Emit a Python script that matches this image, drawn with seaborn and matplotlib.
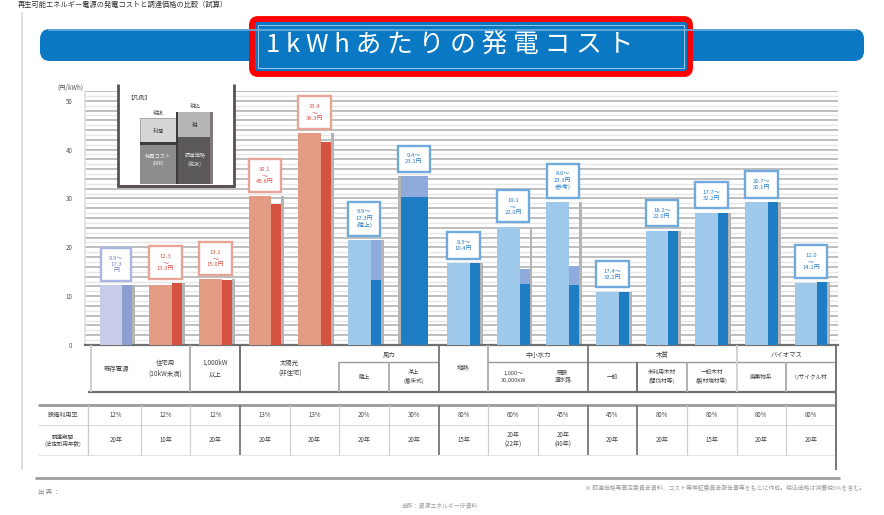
import numpy as np
import pandas as pd
import matplotlib
matplotlib.use("Agg")
import matplotlib.pyplot as plt
from matplotlib.patches import Rectangle, FancyBboxPatch
import seaborn as sns

# ---------------- data ----------------
groups = ["lav", "red", "red", "red", "red", "blue", "blue", "blue",
          "blue", "blue", "blue", "blue", "blue", "blue", "blue"]
light_vals = [12.3, 12.3, 13.5, 30.5, 43.4, 21.5, np.nan, 16.8,
              24.2, 29.3, 10.9, 23.4, 27.1, 29.3, 12.7]
dark_vals = [12.3, 12.7, 13.3, 28.9, 41.6, 13.3, 30.3, 16.8,
             12.5, 12.3, 10.9, 23.4, 27.1, 29.3, 12.9]
dark_total = [np.nan, np.nan, np.nan, np.nan, np.nan, 21.5, 34.6, np.nan,
              15.6, 16.2, np.nan, np.nan, np.nan, np.nan, np.nan]
box_texts = ["9.9～\n17.3\n円", "12.3\n～\n13.3円", "13.1\n～\n15.0円",
             "30.1\n～\n45.8円", "33.4\n～\n38.3円", "9.9～\n17.3円\n(陸上)",
             "9.4～\n23.1円", "8.3～\n10.4円", "19.1\n～\n22.0円",
             "8.0～\n23.3円\n(参考)", "17.4～\n32.2円", "18.2～\n22.0円",
             "17.7～\n32.2円", "20.7～\n30.1円", "12.0\n～\n14.1円"]
full_labels = [("既存電源", 0, 0), ("住宅用\n(10kW未満)", 1, 1),
               ("1,000kW\n以上", 2, 2), ("太陽光\n(非住宅)", 3, 4), ("地熱", 7, 7)]
top_groups = [("風力", 5, 6), ("中小水力", 8, 9), ("木質", 10, 12), ("バイオマス", 13, 14)]
sub_labels = {5: "陸上", 6: "洋上\n(着床式)", 8: "1,000～\n30,000kW", 9: "既設\n導水路",
              10: "一般", 11: "未利用木材\n(間伐材等)", 12: "一般木材\n(製材端材等)",
              13: "廃棄物系", 14: "リサイクル材"}
row_labels = ["設備利用率", "調達期間\n(法定耐用年数)"]
util_vals = ["12%", "12%", "12%", "13%", "13%", "20%", "30%", "80%",
             "60%", "45%", "45%", "80%", "80%", "80%", "80%"]
period_vals = ["20年", "10年", "20年", "20年", "20年", "20年", "20年", "15年",
               "20年\n(22年)", "20年\n(40年)", "20年", "20年", "15年", "20年", "20年"]
y_ticks = [0, 10, 20, 30, 40, 50]
unit_label = "(円/kWh)"
title = "1 k W h あ た り の 発 電 コ ス ト"

# ---------------- style ----------------
sns.set_theme(style="white")
plt.rcParams["font.family"] = ["Noto Sans CJK JP", "DejaVu Sans"]

light_pal = {"lav": "#c7cce9", "red": "#e39b83", "blue": "#9fc9eb"}
dark_pal = {"lav": "#8d9ed3", "red": "#d4523f", "blue": "#1f7dc3"}
cap_pal = {"lav": "#a9b6e0", "red": "#e07a66", "blue": "#8eabdb"}
box_ec = {"lav": "#aab6e2", "red": "#e8a497", "blue": "#70a9dc"}
box_tc = {"lav": "#6f86cc", "red": "#d9534a", "blue": "#2a7fc8"}

W, H = 884, 515
fig = plt.figure(figsize=(W / 100, H / 100), dpi=100)
fig.patch.set_facecolor("white")

X0, DX = 116.0, 49.64
L_PX, R_PX = 85, 838
TOP_PX, BOT_PX = 91, 345
YMAX = 52

ax = fig.add_axes([L_PX / W, 1 - BOT_PX / H, (R_PX - L_PX) / W, (BOT_PX - TOP_PX) / H])
ax.set_facecolor("white")

df = pd.DataFrame({"pos": np.arange(len(groups)), "group": groups,
                   "light": light_vals, "dark": dark_vals, "total": dark_total})
df["top"] = df[["light", "dark", "total"]].max(axis=1)
has_light = df["light"].notna()


def bars(data, ycol, offset, width, z, palette=None, color=None):
    d = data.dropna(subset=[ycol])
    if d.empty:
        return
    kw = dict(native_scale=True, width=width, errorbar=None, saturation=1,
              linewidth=0, ax=ax, zorder=z)
    if palette is not None:
        sns.barplot(x=d["pos"] + offset, y=d[ycol], hue=d["group"], palette=palette,
                    dodge=False, legend=False, **kw)
    else:
        sns.barplot(x=d["pos"] + offset, y=d[ycol], color=color, **kw)


narrow = df[has_light]
wide = df[~has_light]
# shadows
bars(narrow, "top", 0.36, 0.06, 2, color="#b4b4b4")
bars(wide, "top", -0.29, 0.06, 2, color="#b4b4b4")
# light bars
bars(narrow, "light", -0.10, 0.46, 3, palette=light_pal)
# stacked dark bars
bars(narrow, "total", 0.23, 0.20, 3, palette=cap_pal)
bars(narrow, "dark", 0.23, 0.20, 4, palette=dark_pal)
bars(wide, "total", 0.01, 0.54, 3, palette=cap_pal)
bars(wide, "dark", 0.01, 0.54, 4, palette=dark_pal)

# grid
for v in np.arange(1, YMAX + 1, 1):
    if v % 2 == 0:
        ax.axhline(v, color="#bebebe", lw=1.4, zorder=0)
    else:
        ax.axhline(v, color="#e6e6e6", lw=1.0, zorder=0)

ax.set_xlim((L_PX - X0) / DX, (R_PX - X0) / DX)
ax.set_ylim(0, YMAX)
ax.set_xticks([])
ax.set_xlabel("")
ax.set_ylabel("")
ax.set_yticks(y_ticks)
ax.set_yticklabels([str(t) for t in y_ticks], fontsize=4.5, color="#555555")
ax.tick_params(axis="y", length=0, pad=9)
for s in ["top", "right"]:
    ax.spines[s].set_visible(False)
ax.spines["left"].set_color("#dedede")
ax.spines["left"].set_linewidth(1.2)
ax.spines["bottom"].set_color("#707070")
ax.spines["bottom"].set_linewidth(1.6)

# annotation boxes
for i, row in df.iterrows():
    g = row["group"]
    ax.annotate(box_texts[i], xy=(row["pos"], row["top"]), xytext=(0, 8.5),
                textcoords="offset points", ha="center", va="bottom",
                fontsize=4.3, color=box_tc[g], linespacing=1.3,
                bbox=dict(boxstyle="square,pad=1.25", fc="white", ec=box_ec[g], lw=1.7),
                zorder=6, annotation_clip=False)

# ---------------- overlay (pixel coords) ----------------
ov = fig.add_axes([0, 0, 1, 1])
ov.set_xlim(0, W)
ov.set_ylim(H, 0)
ov.axis("off")
ov.set_zorder(3)
ov.patch.set_alpha(0)


def cx(i):
    return X0 + DX * i


def line(x0, y0, x1, y1, c="#777777", lw=1.2):
    ov.plot([x0, x1], [y0, y1], color=c, lw=lw, solid_capstyle="butt")


# top caption and left rule
ov.text(18, 5, "再生可能エネルギー電源の発電コストと調達価格の比較（試算）", fontsize=5.2,
        color="#333333", va="center", ha="left")
line(22, 12, 22, 470, "#d8d8d8", 1.2)

# title banner
ov.add_patch(FancyBboxPatch((40, 29), 824, 32, boxstyle="round,pad=0,rounding_size=10",
                            fc="#0a78c2", ec="none"))
line(48, 30, 856, 30, "#6aaee0", 1.2)
ov.add_patch(FancyBboxPatch((252, 19), 438, 55, boxstyle="round,pad=0,rounding_size=6",
                            fc="#0a78c2", ec="#ff0000", lw=4.2))
ov.add_patch(Rectangle((258, 25), 426, 43, fc="none", ec="#9cc8ea", lw=0.7))
ov.text(266, 46, title, color="white", fontsize=18.5, va="center", ha="left")

# unit label
ov.text(70, 88, unit_label, fontsize=4.5, color="#555555", ha="center", va="center")

# legend inset
ov.add_patch(Rectangle((118, 84), 116, 102, fc="white", ec="none"))
line(118, 84, 118, 187, "#5b5252", 2.0)
line(234, 84, 234, 187, "#5b5252", 2.0)
line(117, 186, 235, 186, "#5b5252", 2.2)
ov.text(127, 98, "【凡例】", fontsize=4.2, color="#444444", ha="left", va="center")
ov.add_patch(Rectangle((140, 118), 36, 24, fc="#d6d6d6", ec="#9a9a9a", lw=0.6))
ov.add_patch(Rectangle((140, 142), 36, 2.5, fc="#3a3a3a", ec="none"))
ov.add_patch(Rectangle((140, 144.5), 36, 39.5, fc="#8c8c8c", ec="none"))
ov.add_patch(Rectangle((176, 112), 37, 25, fc="#b5b5b5", ec="none"))
ov.add_patch(Rectangle((176, 137), 37, 47, fc="#5a5858", ec="none"))
ov.add_patch(Rectangle((176, 112), 2, 72, fc="#3f3a3a", ec="none"))
ov.add_patch(Rectangle((210, 112), 3, 72, fc="#807878", ec="none"))
ov.text(158, 113, "税抜", fontsize=4, color="#555555", ha="center", va="center")
ov.text(158, 131, "利潤", fontsize=4, color="#444444", ha="center", va="center")
ov.text(158, 160, "発電コスト\n(IRR)", fontsize=3.8, color="#eeeeee", ha="center",
        va="center", linespacing=1.5)
ov.text(195, 106, "税込", fontsize=4, color="#555555", ha="center", va="center")
ov.text(195, 125, "税", fontsize=4, color="#333333", ha="center", va="center")
ov.text(195, 160, "調達価格\n(税抜)", fontsize=3.8, color="#dddddd", ha="center",
        va="center", linespacing=1.5)

# header table
HT, HM, HB = 345, 362, 392
tcol = "#444444"
fs = 4.6
line(88, HB, 836, HB, "#6f6f6f", 1.6)
for a, b in [(5, 6), (8, 14)]:
    line(cx(a) - DX / 2, HM, cx(b) + DX / 2, HM, "#9a9a9a", 1.0)
full_v = {-0.5: "#cccccc", 1.5: "#aaaaaa", 2.5: "#666666", 6.5: "#777777", 7.5: "#aaaaaa",
          9.5: "#777777", 12.5: "#cfcfcf", 14.5: "#777777"}
lower_v = {4.5: "#aaaaaa", 5.5: "#aaaaaa", 10.5: "#666666", 11.5: "#aaaaaa", 13.5: "#aaaaaa"}
for k, c in full_v.items():
    line(cx(k), HT, cx(k), HB, c, 1.3)
for k, c in lower_v.items():
    line(cx(k), HM, cx(k), HB, c, 1.3)
for lab, a, b in full_labels:
    ov.text((cx(a) + cx(b)) / 2, (HT + HB) / 2, lab, fontsize=fs, color=tcol,
            ha="center", va="center", linespacing=1.5)
for lab, a, b in top_groups:
    ov.text((cx(a) + cx(b)) / 2, (HT + HM) / 2 + 1, lab, fontsize=fs, color=tcol,
            ha="center", va="center")
for i, lab in sub_labels.items():
    ov.text(cx(i), (HM + HB) / 2, lab, fontsize=4.1, color=tcol, ha="center",
            va="center", linespacing=1.4)

# data table
T0, T1, T2 = 405, 425, 455
line(38, T0, 836, T0, "#9a9a9a", 2.0)
line(38, T1, 836, T1, "#dddddd", 0.8)
line(38, T2, 836, T2, "#e4e4e4", 0.8)
line(88, T0, 88, T2, "#cccccc", 1.0)
heavy = {2.5, 6.5, 9.5, 10.5, 14.5}
for k in np.arange(0.5, 15, 1.0):
    c = "#777777" if k in heavy else "#d0d0d0"
    line(cx(k), T0, cx(k), T2, c, 1.3 if k in heavy else 0.9)
ov.text(63, (T0 + T1) / 2, row_labels[0], fontsize=4.4, color=tcol, ha="center", va="center")
ov.text(63, (T1 + T2) / 2, row_labels[1], fontsize=4.0, color=tcol, ha="center",
        va="center", linespacing=1.4)
for i in range(len(util_vals)):
    ov.text(cx(i), (T0 + T1) / 2, util_vals[i], fontsize=4.4, color=tcol, ha="center", va="center")
    ov.text(cx(i), (T1 + T2) / 2, period_vals[i], fontsize=4.4, color=tcol, ha="center",
            va="center", linespacing=1.3)

# right rule and footer
line(cx(14.5), HT, cx(14.5), 470, "#777777", 1.4)
line(35, 478, 840, 478, "#a0a0a0", 2.0)
ov.text(38, 492, "出 典 ：", fontsize=4.6, color="#888888", ha="left", va="center")
ov.text(865, 488, "※ 調達価格等算定委員会資料、コスト等検証委員会報告書等をもとに作成。税込価格は消費税5%を含む。",
        fontsize=4.2, color="#9a9a9a", ha="right", va="center")
ov.text(440, 505, "出所：資源エネルギー庁資料", fontsize=4.2, color="#9a9a9a", ha="center", va="center")

fig.savefig("out.png", dpi=100, facecolor="white")
